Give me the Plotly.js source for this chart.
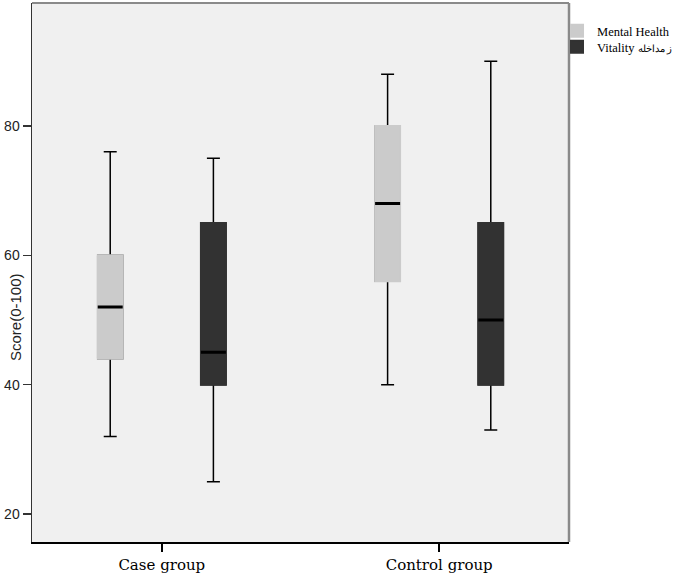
<!DOCTYPE html>
<html>
<head>
<meta charset="utf-8">
<script src="https://cdn.plot.ly/plotly-3.0.1.min.js"></script>
<style>html,body{margin:0;padding:0;background:#fff;}#chart{width:673px;height:579px;}</style>
</head>
<body>
<div id="chart"></div>
<script>
// ---- data ----
const categories = ['Case group', 'Control group'];
const seriesNames = ['Mental Health', 'Vitality'];
const seriesSuffix = ['', 'ز مداخله'];
const mhLow  = [32, 40];
const mhQ1   = [44, 56];
const mhMed  = [52, 68];
const mhQ3   = [60, 80];
const mhHigh = [76, 88];
const vitLow  = [25, 33];
const vitQ1   = [40, 40];
const vitMed  = [45, 50];
const vitQ3   = [65, 65];
const vitHigh = [75, 90];
const yTicks = [20, 40, 60, 80];

const fills = ['#cbcbcb', '#323232'];
const label = i => seriesSuffix[i]
  ? seriesNames[i] + ' <span style="font-size:9.5px">' + seriesSuffix[i] + '</span>'
  : seriesNames[i];
const series = [
  {name: label(0), low: mhLow, q1: mhQ1, med: mhMed, q3: mhQ3, high: mhHigh, fill: fills[0], grp: 'mh', legend: 'legend'},
  {name: label(1), low: vitLow, q1: vitQ1, med: vitMed, q3: vitQ3, high: vitHigh, fill: fills[1], grp: 'vit', legend: 'legend2'}
];

const traces = [];
series.forEach(s => {
  // whiskers + caps
  traces.push({
    type: 'box', x: categories, q1: s.q1, median: s.med, q3: s.q3,
    lowerfence: s.low, upperfence: s.high, boxpoints: false,
    fillcolor: 'rgba(0,0,0,0)', line: {color: '#000', width: 1.5},
    whiskerwidth: 0.52, offsetgroup: s.grp, alignmentgroup: 'a',
    showlegend: false, hoverinfo: 'skip'
  });
  // filled box (no dark outline)
  traces.push({
    type: 'box', x: categories, q1: s.q1, median: s.med, q3: s.q3,
    lowerfence: s.q1, upperfence: s.q3, boxpoints: false,
    fillcolor: s.fill, line: {color: s.fill, width: 2},
    whiskerwidth: 0, offsetgroup: s.grp, alignmentgroup: 'a',
    name: s.name, showlegend: true, legend: s.legend
  });
  // median line
  traces.push({
    type: 'box', x: categories, q1: s.med, median: s.med, q3: s.med,
    lowerfence: s.med, upperfence: s.med, boxpoints: false,
    fillcolor: 'rgba(0,0,0,0)', line: {color: '#000', width: 3},
    whiskerwidth: 0, offsetgroup: s.grp, alignmentgroup: 'a',
    showlegend: false, hoverinfo: 'skip'
  });
});

const legendFont = {family: 'Liberation Serif', size: 12.5, color: '#000'};
const layout = {
  width: 673, height: 579,
  margin: {l: 32, r: 104, t: 3, b: 37, autoexpand: false},
  paper_bgcolor: '#ffffff', plot_bgcolor: '#f0f0f0',
  boxmode: 'group', boxgap: 0.256, boxgroupgap: 0.758,
  showlegend: true,
  legend: {x: 0.9777, y: 0.948, xanchor: 'left', yanchor: 'middle', bgcolor: 'rgba(0,0,0,0)', borderwidth: 0, font: legendFont, itemclick: false},
  legend2: {x: 0.9777, y: 0.918, xanchor: 'left', yanchor: 'middle', bgcolor: 'rgba(0,0,0,0)', borderwidth: 0, font: legendFont, itemclick: false},
  xaxis: {
    type: 'category', range: [-0.468, 1.468], fixedrange: true,
    showline: true, linecolor: '#000', linewidth: 1.5,
    ticks: 'outside', ticklen: 8, tickcolor: '#000', tickwidth: 1.5,
    tickfont: {family: 'DejaVu Serif', size: 15, color: '#000'},
    showgrid: false, zeroline: false
  },
  yaxis: {
    range: [15.67, 99.02], fixedrange: true,
    tickvals: yTicks, ticktext: yTicks.map(String),
    showline: true, linecolor: '#333', linewidth: 1.5,
    ticks: 'outside', ticklen: 8, tickcolor: '#333', tickwidth: 1.5,
    tickfont: {family: 'Liberation Sans, Arial, sans-serif', size: 14, color: '#222'},
    showgrid: false, zeroline: false
  },
  annotations: [{
    text: 'Score(0-100)', textangle: -90, showarrow: false,
    xref: 'paper', yref: 'paper', x: -0.032, y: 0.417, xanchor: 'center', yanchor: 'middle',
    font: {family: 'Liberation Sans, Arial, sans-serif', size: 15, color: '#222'}
  }],
  shapes: [
    {type: 'line', xref: 'paper', yref: 'paper', x0: 0, x1: 1, y0: 1, y1: 1, line: {color: '#8a8a8a', width: 2}, layer: 'below'},
    {type: 'line', xref: 'paper', yref: 'paper', x0: 1, x1: 1, y0: 0, y1: 1, line: {color: '#8a8a8a', width: 2.5}, layer: 'below'}
  ]
};

Plotly.newPlot('chart', traces, layout, {displayModeBar: false, staticPlot: true});
</script>
</body>
</html>
